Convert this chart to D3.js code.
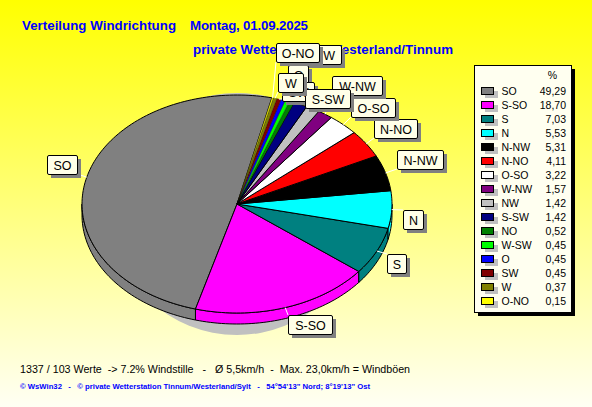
<!DOCTYPE html>
<html><head><meta charset="utf-8">
<script src="https://cdn.jsdelivr.net/npm/d3@7"></script>
<style>html,body{margin:0;padding:0;background:#fff}svg{display:block}text{font-family:"Liberation Sans",Arial,sans-serif;white-space:pre}</style>
</head><body><svg id="c" width="592" height="407"></svg>
<script>
const categories=["SO","S-SO","S","N","N-NW","N-NO","O-SO","W-NW","NW","S-SW","NO","W-SW","O","SW","W","O-NO"];
const values=[49.29,18.70,7.03,5.53,5.31,4.11,3.22,1.57,1.42,1.42,0.52,0.45,0.45,0.45,0.37,0.15];
const valueLabels=["49,29","18,70","7,03","5,53","5,31","4,11","3,22","1,57","1,42","1,42","0,52","0,45","0,45","0,45","0,37","0,15"];
const colors=["#808080","#ff00ff","#008080","#00ffff","#000000","#ff0000","#ffffff","#800080","#c0c0c0","#000080","#008000","#00ff00","#0000ff","#800000","#808000","#ffff00"];

const svg=d3.select("#c");
const g=svg.append("defs").append("linearGradient").attr("id","bg").attr("x1",0).attr("y1",0).attr("x2",0).attr("y2",1);
g.append("stop").attr("offset",0).attr("stop-color","#ffff00");
g.append("stop").attr("offset",1).attr("stop-color","#fffff4");
svg.append("rect").attr("width",592).attr("height",407).attr("fill","url(#bg)");
const title=[["Verteilung Windrichtung",22,30,154],["Montag, 01.09.2025",190,30,118],["private Wetterstation Westerland/Tinnum",193,54,260]];
svg.selectAll("text.t").data(title).join("text").attr("class","t").attr("x",d=>d[1]).attr("y",d=>d[2]).attr("textLength",d=>d[3]).text(d=>d[0]).attr("fill","#0000ff").attr("font-weight","bold").attr("font-size",13.3);

const cx=237,cy=204,rx=155,ry=109,depth=11,startDeg=13,toRad=Math.PI/180;
const total=d3.sum(values);
const angle=d3.scaleLinear().domain([0,total]).range([startDeg*toRad,(startDeg-360)*toRad]);
let acc=0;
const slices=values.map((v,i)=>{const s={i,v,a0:angle(acc),a1:angle(acc+v)};acc+=v;s.mid=(s.a0+s.a1)/2;return s;});
const px=(a,dy=0)=>[cx+rx*Math.sin(a),cy+dy-ry*Math.cos(a)];
const line=d3.line();
const arcPts=(a0,a1)=>{const n=Math.max(2,Math.ceil(Math.abs(a1-a0)*40));return d3.range(n+1).map(j=>a0+(a1-a0)*j/n);};

// drop shadow
svg.append("ellipse").attr("cx",cx).attr("cy",cy+10).attr("rx",125).attr("ry",121).attr("fill","#c0c0c0");
// side wall (front half only)
slices.forEach(s=>{
  const low=arcPts(s.a0,s.a1).filter(a=>Math.cos(a)<=0);
  if(low.length<2)return;
  const top=low.map(a=>px(a)),bot=low.map(a=>px(a,depth)).reverse();
  svg.append("path").attr("d",line(top.concat(bot))+"Z").attr("fill",colors[s.i]).attr("stroke","#000");
});
// top face
svg.append("g").selectAll("path").data(slices).join("path")
 .attr("d",s=>line([[cx,cy]].concat(arcPts(s.a0,s.a1).map(a=>px(a))))+"Z")
 .attr("fill",s=>colors[s.i]).attr("stroke","#000").attr("stroke-width",s=>s.v<1?0.3:1).attr("stroke-linejoin","round");

// label callouts, in paint order: [name, left, top, width]
const callouts=[["SO",47,155,30],["S-SO",288,315,44],["S",387,254,19],["N",403,210,20],["N-NW",397,150,46],["N-NO",374,119,43],["O-SO",351,98,44],["W-NW",332,76,50],["W-SW",292,45,49],["O",288,65,20],["SW",282,82,32],["S-SW",305,89,45],["W",278,73,25],["O-NO",276,43,43]];
const boxH=19;
const lab=svg.append("g");
lab.selectAll("line").data(callouts).join("line").each(function(c){
  const s=slices[categories.indexOf(c[0])],p=px(s.mid);
  const q=[Math.max(c[1],Math.min(c[1]+c[3],p[0])),Math.max(c[2],Math.min(c[2]+boxH,p[1]))];
  d3.select(this).attr("x1",p[0]).attr("y1",p[1]).attr("x2",q[0]).attr("y2",q[1]).attr("stroke","#fff");
});
const cg=lab.selectAll("g").data(callouts).join("g");
cg.append("rect").attr("x",c=>c[1]+4).attr("y",c=>c[2]+4).attr("width",c=>c[3]).attr("height",boxH).attr("fill","#808080");
cg.append("rect").attr("x",c=>c[1]+.5).attr("y",c=>c[2]+.5).attr("width",c=>c[3]).attr("height",boxH).attr("rx",1.5).attr("fill","#ffffe8").attr("stroke","#000");
cg.append("text").attr("x",c=>c[1]+c[3]/2+.5).attr("y",c=>c[2]+14.5).attr("text-anchor","middle").attr("font-size",12.5).attr("fill","#000").text(c=>c[0]);

// legend
const lx=474,ly=65,lw=97,lh=247;
svg.append("rect").attr("x",lx+4).attr("y",ly+4).attr("width",lw).attr("height",lh).attr("fill","#000");
svg.append("rect").attr("x",lx+.5).attr("y",ly+.5).attr("width",lw).attr("height",lh).attr("fill","#fffff0").attr("stroke","#000");
svg.append("text").attr("x",557).attr("y",79).attr("text-anchor","end").attr("font-size",10.5).text("%");
const rowY=d3.scaleLinear().domain([0,15]).range([91,301]);
const row=svg.append("g").selectAll("g").data(categories).join("g").attr("transform",(d,i)=>`translate(0,${rowY(i)})`);
row.append("rect").attr("x",485).attr("y",0).attr("width",13).attr("height",7).attr("fill","#c0c0c0");
row.append("rect").attr("x",481.5).attr("y",-3.5).attr("width",12).attr("height",7).attr("fill",(d,i)=>colors[i]).attr("stroke","#000");
row.append("text").attr("x",501.5).attr("y",4).attr("font-size",10.5).text(d=>d);
row.append("text").attr("x",566).attr("y",4).attr("text-anchor","end").attr("font-size",10.5).text((d,i)=>valueLabels[i]);

svg.append("text").attr("x",20).attr("y",373).attr("font-size",10.7).text("1337 / 103 Werte  -> 7.2% Windstille   -   Ø 5,5km/h  -  Max. 23,0km/h = Windböen");
svg.append("text").attr("x",20).attr("y",389).attr("font-size",7.7).attr("font-weight","bold").attr("fill","#0000ff").text("© WsWin32   -   © private Wetterstation Tinnum/Westerland/Sylt   -   54°54'13\" Nord; 8°19'13\" Ost");
</script></body></html>
